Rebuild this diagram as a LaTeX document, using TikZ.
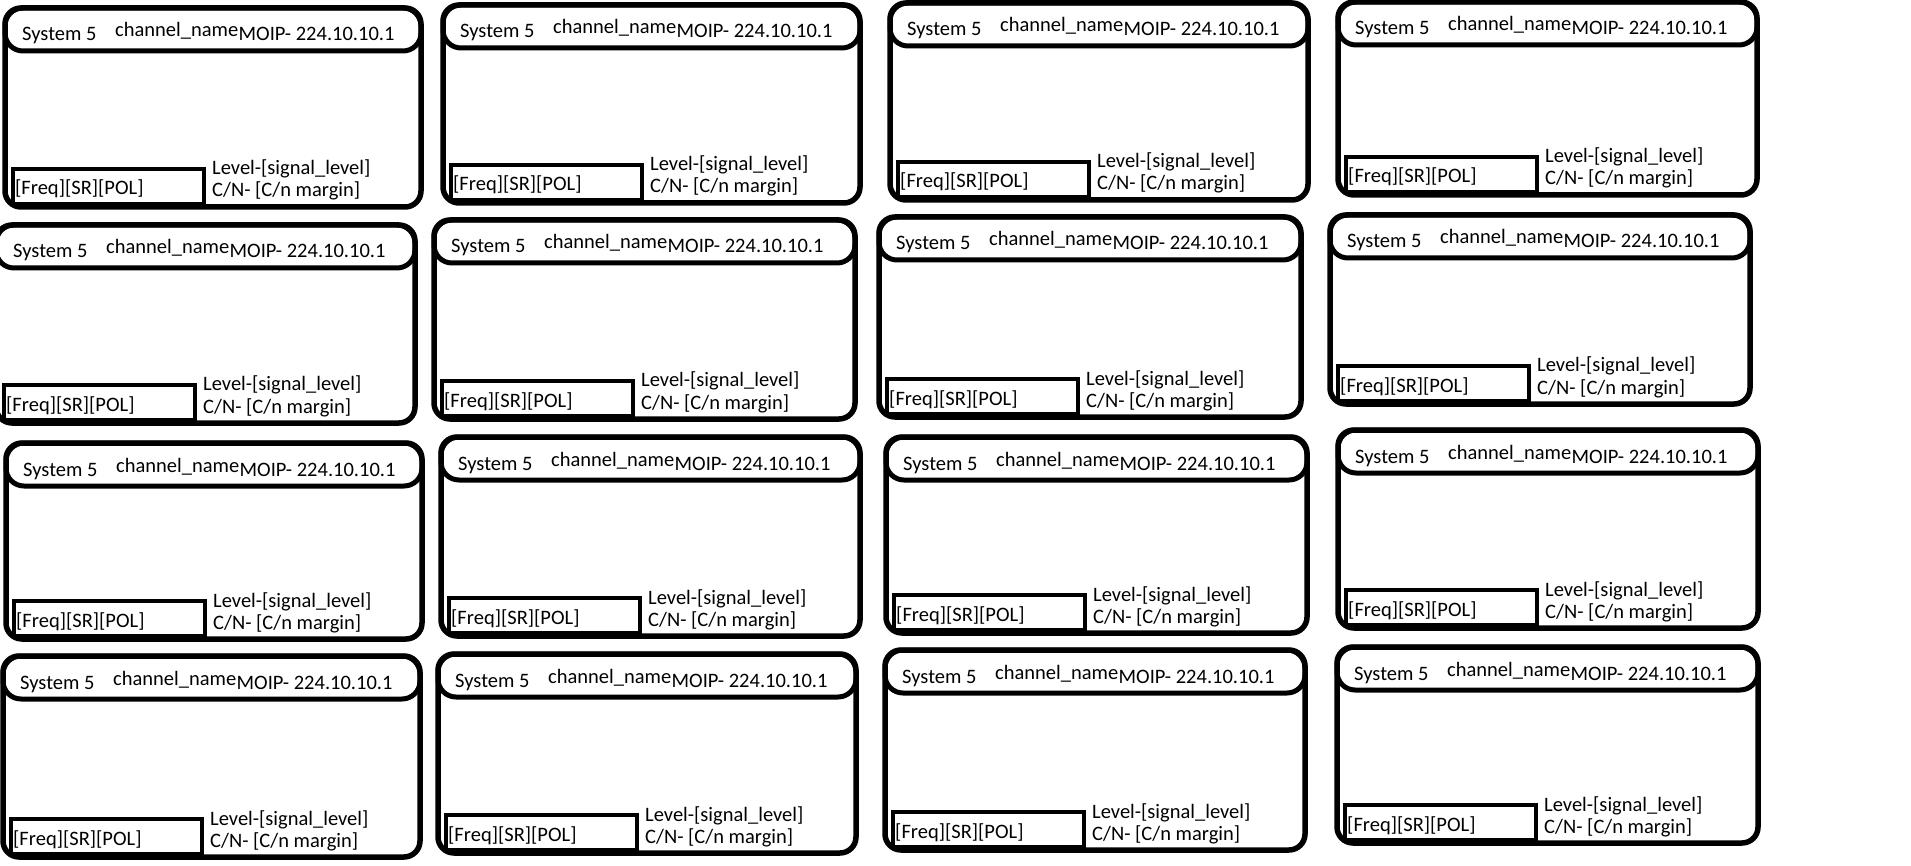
\documentclass[tikz,border=0pt]{standalone}
\usepackage{fontspec}
\setmainfont{Carlito}
\usetikzlibrary{positioning}

\begin{document}
\begin{tikzpicture}[x=1pt, y=-1pt,
  frame/.style={line width=5.5pt, rounded corners=16pt},
  header/.style={line width=5pt, rounded corners=18pt},
  tunebox/.style={line width=3.5pt},
  txt/.style={anchor=base west, inner sep=0pt, font=\fontsize{20.5pt}{24pt}\selectfont}]
  \useasboundingbox (0,0) rectangle (1911,866);
  % one channel card per entry: name/left/top/width/height
  \foreach \n/\x/\y/\w/\h in {11/5/8/416/199, 12/443/5/417/198, 13/890/3/418/197, 14/1338/2/419/193,
      21/-4/225/419/198, 22/434/220/421/199, 23/879/217/422/200, 24/1330/215/420/189,
      31/6/443/416/196, 32/441/437/419/199, 33/886/437/421/196, 34/1338/430/420/198,
      41/3/656/417/201, 42/438/654/418/199, 43/885/650/420/200, 44/1337/647/421/196}{
    \draw[frame] (\x,\y) rectangle ++(\w,\h);
    \draw[header] (\x,\y) rectangle ++(\w,43);
    \node[txt] (sys\n) at ({\x+17},{\y+33}) {System 5};
    \node[txt] (chan\n) at ({\x+110},{\y+29}) {channel\_name};
    \node[txt, base right=0pt of chan\n, yshift=-4pt] (ip\n) {MOIP- 224.10.10.1};
    \draw[tunebox] ({\x+8},{\y+\h-38}) rectangle ({\x+199},{\y+\h-3});
    \node[txt] (tune\n) at ({\x+10},{\y+\h-12}) {[Freq][SR][POL]};
    \node[txt] (lvl\n) at ({\x+207},{\y+\h-32}) {Level-[signal\_level]};
    \node[txt] (cn\n) at ({\x+207},{\y+\h-10}) {C/N- [C/n margin]};
  }
\end{tikzpicture}
\end{document}
